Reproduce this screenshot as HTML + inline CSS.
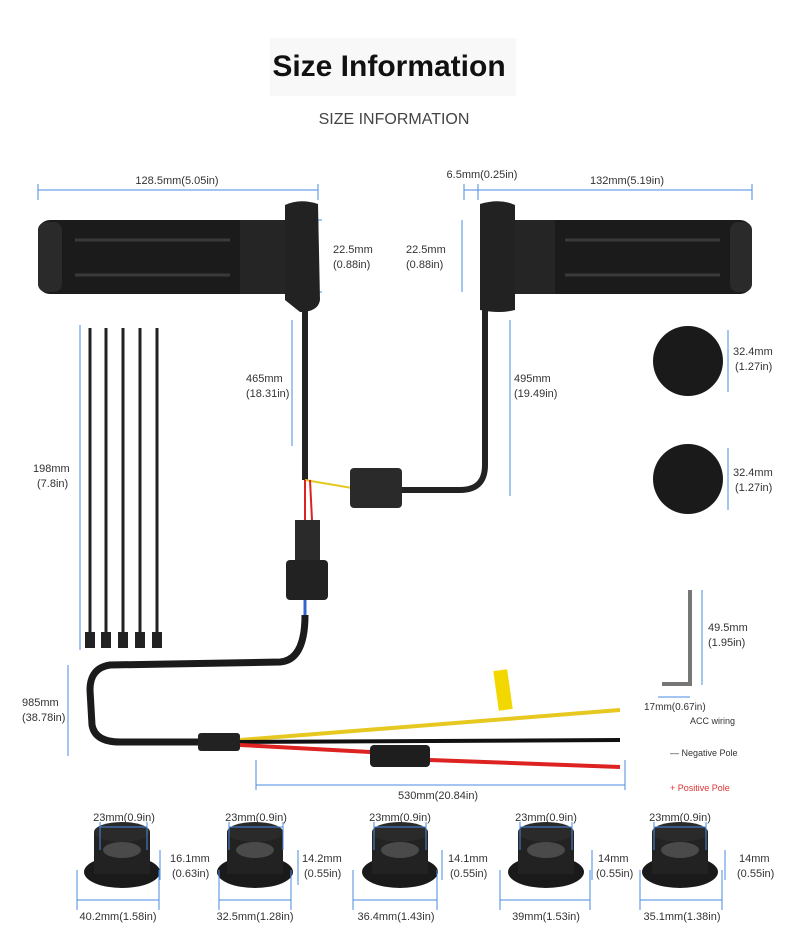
<!DOCTYPE html>
<html><head><meta charset="utf-8"><style>
html,body{margin:0;padding:0;background:#fff}
svg{display:block}
text{font-family:"Liberation Sans",sans-serif}
</style></head><body>
<svg width="790" height="948" viewBox="0 0 790 948" xmlns="http://www.w3.org/2000/svg" fill="#333">
<defs>
<g id="clamp">
 <ellipse cx="0" cy="64" rx="38" ry="16" fill="#1a1a1a"/>
 <rect x="-28" y="24" width="56" height="42" fill="#222"/>
 <ellipse cx="0" cy="24" rx="28" ry="10" fill="#2a2a2a"/>
 <ellipse cx="0" cy="42" rx="19" ry="8" fill="#4a4a4a"/>
</g>
</defs>
<rect width="790" height="948" fill="#fff"/>
<rect x="270" y="38" width="246" height="58" fill="#f8f8f8"/>
<text x="389" y="76" font-size="30" font-weight="bold" text-anchor="middle" fill="#111">Size Information</text>
<text x="394" y="124" font-size="16" text-anchor="middle" fill="#444">SIZE INFORMATION</text>

<g stroke="#4a8be0" stroke-width="1" fill="none">
 <line x1="38" y1="190" x2="318" y2="190"/><line x1="38" y1="184" x2="38" y2="200"/><line x1="318" y1="184" x2="318" y2="200"/>
 <line x1="464" y1="190" x2="752" y2="190"/><line x1="752" y1="184" x2="752" y2="200"/>
 <line x1="464" y1="184" x2="464" y2="200"/><line x1="478" y1="184" x2="478" y2="200"/>
 <line x1="318" y1="220" x2="318" y2="292"/><line x1="312" y1="220" x2="322" y2="220"/><line x1="312" y1="292" x2="322" y2="292"/>
 <line x1="462" y1="220" x2="462" y2="292"/>
 <line x1="292" y1="320" x2="292" y2="446"/><line x1="510" y1="320" x2="510" y2="496"/>
 <line x1="80" y1="325" x2="80" y2="650"/>
 <line x1="68" y1="665" x2="68" y2="756"/>
 <line x1="256" y1="760" x2="256" y2="790"/><line x1="625" y1="760" x2="625" y2="790"/><line x1="256" y1="785" x2="625" y2="785"/>
 <line x1="728" y1="330" x2="728" y2="392"/><line x1="728" y1="448" x2="728" y2="510"/>
 <line x1="702" y1="590" x2="702" y2="685"/><line x1="658" y1="697" x2="690" y2="697"/>
</g>
<g font-size="11" fill="#333">
<text x="177" y="184" text-anchor="middle">128.5mm(5.05in)</text>
<text x="482" y="178" text-anchor="middle">6.5mm(0.25in)</text>
<text x="627" y="184" text-anchor="middle">132mm(5.19in)</text>
<text x="333" y="253">22.5mm</text><text x="333" y="268">(0.88in)</text>
<text x="406" y="253">22.5mm</text><text x="406" y="268">(0.88in)</text>
<text x="246" y="382">465mm</text><text x="246" y="397">(18.31in)</text>
<text x="514" y="382">495mm</text><text x="514" y="397">(19.49in)</text>
<text x="33" y="472">198mm</text><text x="37" y="487">(7.8in)</text>
<text x="733" y="355">32.4mm</text><text x="735" y="370">(1.27in)</text>
<text x="733" y="476">32.4mm</text><text x="735" y="491">(1.27in)</text>
<text x="708" y="631">49.5mm</text><text x="708" y="646">(1.95in)</text>
<text x="644" y="710" font-size="10">17mm(0.67in)</text>
<text x="22" y="706">985mm</text><text x="22" y="721">(38.78in)</text>
<text x="398" y="799">530mm(20.84in)</text>
<text x="690" y="724" font-size="9">ACC wiring</text>
<text x="670" y="756" font-size="9">— Negative Pole</text>
<text x="670" y="791" font-size="9" fill="#d33">+  Positive Pole</text>
</g>

<!-- left grip -->
<rect x="38" y="220" width="260" height="74" rx="12" fill="#1b1b1b"/>
<rect x="38" y="222" width="24" height="70" rx="8" fill="#2a2a2a"/>
<path d="M285 205 Q300 198 318 204 L320 300 Q318 312 300 312 L285 300Z" fill="#222"/>
<rect x="240" y="220" width="45" height="74" fill="#252525"/>
<path d="M75 240 H230 M75 275 H230" stroke="#3a3a3a" stroke-width="3"/>
<!-- right grip -->
<rect x="490" y="220" width="262" height="74" rx="12" fill="#1b1b1b"/>
<rect x="730" y="222" width="22" height="70" rx="8" fill="#2a2a2a"/>
<path d="M480 204 Q500 198 515 205 L515 310 Q500 314 480 310Z" fill="#222"/>
<rect x="515" y="220" width="40" height="74" fill="#252525"/>
<path d="M565 240 H720 M565 275 H720" stroke="#3a3a3a" stroke-width="3"/>
<!-- cables -->
<path d="M305 310 V480" stroke="#222" stroke-width="6" fill="none"/>
<path d="M485 310 V465 Q485 490 460 490 L400 490" stroke="#222" stroke-width="6" fill="none"/>
<path d="M305 480 L352 488" stroke="#e6c820" stroke-width="2" fill="none"/>
<path d="M305 480 L305 520 M310 480 L312 520" stroke="#d22" stroke-width="2"/>
<rect x="350" y="468" width="52" height="40" rx="4" fill="#2a2a2a"/>
<rect x="295" y="520" width="25" height="45" fill="#2a2a2a"/>
<rect x="286" y="560" width="42" height="40" rx="4" fill="#222"/>
<path d="M305 600 V615" stroke="#3366cc" stroke-width="3"/>
<path d="M305 615 Q305 660 280 662 L110 665 Q90 668 90 690 L92 725 Q95 742 120 742 L200 742" stroke="#1b1b1b" stroke-width="7" fill="none"/>
<rect x="198" y="733" width="42" height="18" rx="3" fill="#222"/>
<path d="M240 740 L620 710" stroke="#e6c820" stroke-width="4"/>
<path d="M240 742 L620 740" stroke="#111" stroke-width="4"/>
<path d="M240 745 L370 752 M430 760 L620 767" stroke="#d22" stroke-width="4"/>
<rect x="370" y="745" width="60" height="22" rx="4" fill="#1e1e1e"/>
<rect x="496" y="670" width="14" height="40" fill="#f2d800" transform="rotate(-8 503 690)"/>
<!-- zip ties -->
<g stroke="#222" stroke-width="3">
 <line x1="90" y1="328" x2="90" y2="640"/><line x1="106" y1="328" x2="106" y2="640"/>
 <line x1="123" y1="328" x2="123" y2="640"/><line x1="140" y1="328" x2="140" y2="640"/>
 <line x1="157" y1="328" x2="157" y2="640"/>
</g>
<g fill="#222"><rect x="85" y="632" width="10" height="16"/><rect x="101" y="632" width="10" height="16"/><rect x="118" y="632" width="10" height="16"/><rect x="135" y="632" width="10" height="16"/><rect x="152" y="632" width="10" height="16"/></g>
<!-- caps -->
<circle cx="688" cy="361" r="35" fill="#1a1a1a"/>
<circle cx="688" cy="479" r="35" fill="#1a1a1a"/>
<!-- allen key -->
<path d="M690 590 V684 H662" stroke="#777" stroke-width="4" fill="none"/>
<!-- clamps -->
<use href="#clamp" x="122" y="808"/>
<use href="#clamp" x="255" y="808"/>
<use href="#clamp" x="400" y="808"/>
<use href="#clamp" x="546" y="808"/>
<use href="#clamp" x="680" y="808"/>
<g stroke="#4a8be0" fill="none">
 <path d="M100 827 H147 M100 822 V850 M147 822 V850 M77 900 H159 M77 870 V910 M159 870 V910 M160 850 V880"/>
 <path d="M229 827 H283 M229 822 V850 M283 822 V850 M219 900 H291 M219 870 V910 M291 870 V910 M298 850 V885"/>
 <path d="M374 827 H426 M374 822 V850 M426 822 V850 M353 900 H437 M353 870 V910 M437 870 V910 M442 850 V880"/>
 <path d="M520 827 H572 M520 822 V850 M572 822 V850 M500 900 H590 M500 870 V910 M590 870 V910 M592 850 V880"/>
 <path d="M654 827 H706 M654 822 V850 M706 822 V850 M640 900 H722 M640 870 V910 M722 870 V910 M725 850 V880"/>
</g>
<g font-size="11" fill="#333">
<text x="124" y="821" text-anchor="middle">23mm(0.9in)</text>
<text x="256" y="821" text-anchor="middle">23mm(0.9in)</text>
<text x="400" y="821" text-anchor="middle">23mm(0.9in)</text>
<text x="546" y="821" text-anchor="middle">23mm(0.9in)</text>
<text x="680" y="821" text-anchor="middle">23mm(0.9in)</text>
<text x="170" y="862">16.1mm</text><text x="172" y="877">(0.63in)</text>
<text x="302" y="862">14.2mm</text><text x="304" y="877">(0.55in)</text>
<text x="448" y="862">14.1mm</text><text x="450" y="877">(0.55in)</text>
<text x="598" y="862">14mm</text><text x="596" y="877">(0.55in)</text>
<text x="739" y="862">14mm</text><text x="737" y="877">(0.55in)</text>
<text x="118" y="920" text-anchor="middle">40.2mm(1.58in)</text>
<text x="255" y="920" text-anchor="middle">32.5mm(1.28in)</text>
<text x="396" y="920" text-anchor="middle">36.4mm(1.43in)</text>
<text x="546" y="920" text-anchor="middle">39mm(1.53in)</text>
<text x="682" y="920" text-anchor="middle">35.1mm(1.38in)</text>
</g>
</svg>
</body></html>
